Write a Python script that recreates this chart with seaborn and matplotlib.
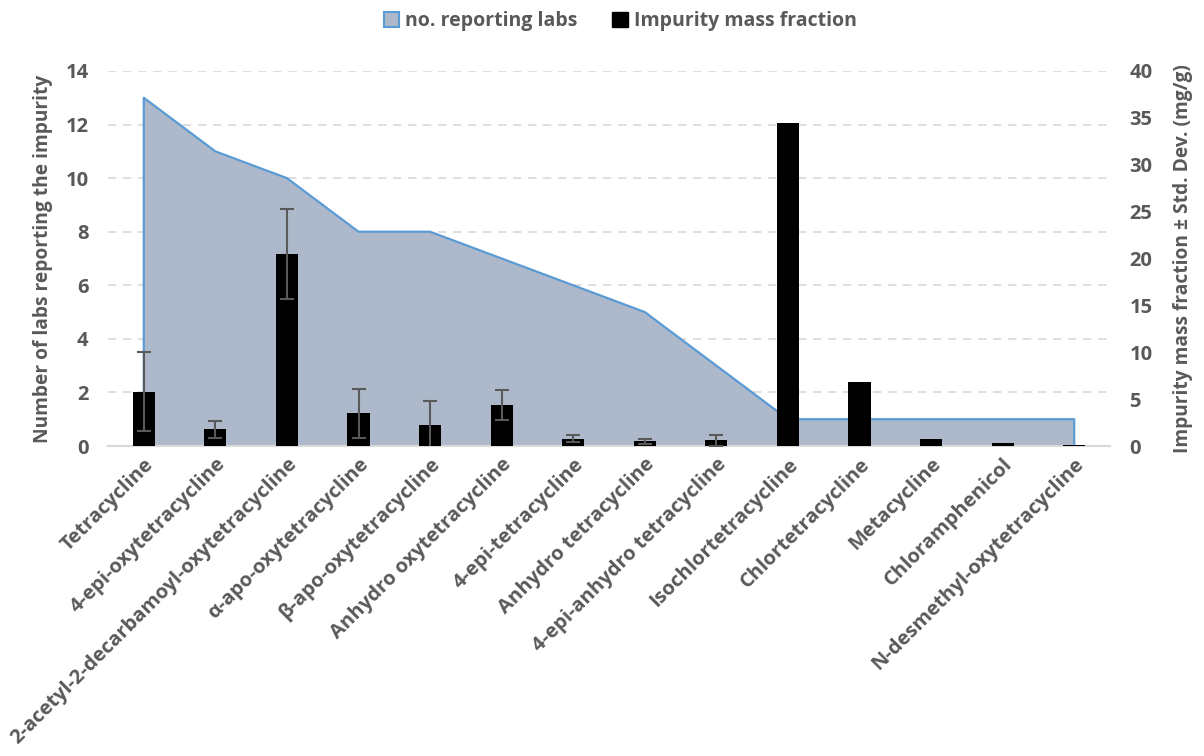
import matplotlib
matplotlib.use("Agg")
import matplotlib.pyplot as plt
import seaborn as sns
import numpy as np
import pandas as pd
from matplotlib.patches import Patch

categories = ["Tetracycline", "4-epi-oxytetracycline", "2-acetyl-2-decarbamoyl-oxytetracycline",
              "α-apo-oxytetracycline", "β-apo-oxytetracycline", "Anhydro oxytetracycline",
              "4-epi-tetracycline", "Anhydro tetracycline", "4-epi-anhydro tetracycline",
              "Isochlortetracycline", "Chlortetracycline", "Metacycline", "Chloramphenicol",
              "N-desmethyl-oxytetracycline"]
labs = [13, 11, 10, 8, 8, 7, 6, 5, 3, 1, 1, 1, 1, 1]
mass = [5.8, 1.8, 20.5, 3.5, 2.2, 4.4, 0.8, 0.5, 0.6, 34.5, 6.8, 0.8, 0.3, 0.1]
sd = [4.2, 0.9, 4.8, 2.6, 2.6, 1.6, 0.35, 0.3, 0.6, 0, 0, 0, 0, 0]
left_ticks = [0, 2, 4, 6, 8, 10, 12, 14]
right_ticks = [0, 5, 10, 15, 20, 25, 30, 35, 40]

sns.set_theme(style="white")
plt.rcParams["font.family"] = ["Open Sans", "DejaVu Sans"]
plt.rcParams["font.weight"] = "bold"

GRAY = "#595959"
FS_TICK = 14.5
FS_LAB = 13.8
FS_LEG = 14.0

fig = plt.figure(figsize=(12.04, 7.56), dpi=100)
ax = fig.add_axes([108/1204, 1-446/756, (1110-108)/1204, (446-71)/756])
x = np.arange(len(categories))

ax.fill_between(x, labs, 0, color="#ADB9CA", zorder=1, linewidth=0)
outline = pd.DataFrame({"x": np.concatenate([[x[0]], x, [x[-1]]]),
                        "y": np.concatenate([[0], labs, [0]])})
sns.lineplot(data=outline, x="x", y="y", sort=False, estimator=None, ax=ax,
             color="#5B9BD5", linewidth=1.6, zorder=2)

ax.set_ylim(0, 14)
ax.set_yticks(left_ticks)
ax.yaxis.grid(True, linestyle=(0, (5, 4)), color="#D9D9D9", linewidth=1.2)
ax.set_axisbelow(True)

ax2 = ax.twinx()
dfb = pd.DataFrame({"cat": categories, "mass": mass})
sns.barplot(data=dfb, x="cat", y="mass", ax=ax2, color="black", saturation=1,
            width=0.31, zorder=3, linewidth=0, edgecolor="black")
sd_arr = np.array(sd)
m = sd_arr > 0
ax2.errorbar(x[m], np.array(mass)[m], yerr=sd_arr[m], fmt="none", ecolor=GRAY,
             elinewidth=1.5, capsize=5, capthick=1.5, zorder=4)
ax2.set_ylim(0, 40)
ax2.set_yticks(right_ticks)
ax2.set_xlabel("")

ax.set_xlim(-0.5, len(categories) - 0.5)
ax.set_xticks(x)
ax.set_xticklabels(categories, rotation=45, ha="right", rotation_mode="anchor",
                   fontsize=FS_TICK, fontweight="bold", color=GRAY)
ax.tick_params(axis="x", length=0, pad=6)
ax.tick_params(axis="y", length=0, pad=14, labelsize=FS_TICK, labelcolor=GRAY)
ax2.tick_params(axis="y", length=0, pad=14, labelsize=FS_TICK, labelcolor=GRAY)
for t in ax.get_yticklabels() + ax2.get_yticklabels():
    t.set_fontweight("bold")

for a in (ax, ax2):
    for s in ("left", "right", "top"):
        a.spines[s].set_visible(False)
    a.spines["bottom"].set_color("#D9D9D9")
    a.spines["bottom"].set_linewidth(1.5)

ax.set_xlabel("")
ax.set_ylabel("Number of labs reporting the impurity", fontsize=FS_LAB,
              fontweight="bold", color=GRAY, labelpad=9)
ax2.set_ylabel("Impurity mass fraction ± Std. Dev. (mg/g)", fontsize=FS_LAB,
               fontweight="bold", color=GRAY, labelpad=15)

handles = [Patch(facecolor="#ADB9CA", edgecolor="#5B9BD5", linewidth=1.5),
           Patch(facecolor="black", edgecolor="black")]
leg = fig.legend(handles, ["no. reporting labs", "Impurity mass fraction"],
                 loc="upper center", bbox_to_anchor=(0.515, 1.008), ncol=2,
                 frameon=False, fontsize=FS_LEG, handlelength=0.8, handleheight=0.8,
                 handletextpad=0.3, columnspacing=1.8)
for t in leg.get_texts():
    t.set_color(GRAY)
    t.set_fontweight("bold")

fig.savefig("out.png", dpi=100)
